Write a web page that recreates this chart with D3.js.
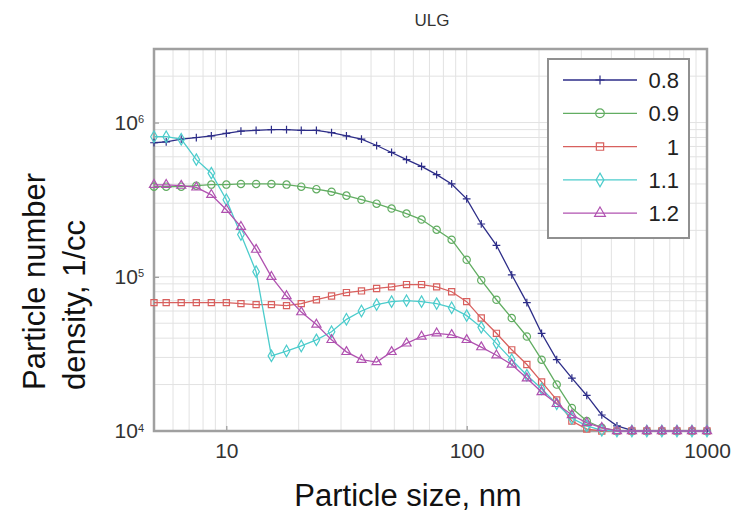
<!DOCTYPE html>
<html>
<head>
<meta charset="utf-8">
<script src="https://cdn.jsdelivr.net/npm/d3@7"></script>
<style>
  body { margin: 0; background: #fff; }
  svg { display: block; font-family: "Liberation Sans", Arial, sans-serif; }
</style>
</head>
<body>
<div id="chart"></div>
<script>
// particle sizes, nm
const sizes = [5, 5.62, 6.49, 7.5, 8.66, 10, 11.5, 13.3, 15.4, 17.8, 20.5, 23.7, 27.4, 31.6, 36.5,
  42.2, 48.7, 56.2, 64.9, 75, 86.6, 100, 115, 133, 154, 178, 205, 237, 274, 316, 365, 422, 487,
  562, 649, 750, 866, 1000];

// number density, 1/cc
const n08 = [7.4e5, 7.5e5, 7.8e5, 8.0e5, 8.2e5, 8.5e5, 8.8e5, 8.9e5, 9.0e5, 9.0e5, 8.9e5, 8.9e5,
  8.6e5, 8.2e5, 7.8e5, 7.1e5, 6.4e5, 5.75e5, 5.2e5, 4.6e5, 4.0e5, 3.2e5, 2.2e5, 1.6e5, 1.03e5,
  6.8e4, 4.3e4, 2.9e4, 2.2e4, 1.7e4, 1.27e4, 1.08e4, 1.01e4, 1e4, 1e4, 1e4, 1e4, 1e4];
const n09 = [3.84e5, 3.84e5, 3.84e5, 3.9e5, 3.96e5, 3.96e5, 4.0e5, 4.0e5, 4.0e5, 3.96e5, 3.84e5,
  3.7e5, 3.56e5, 3.36e5, 3.16e5, 2.98e5, 2.77e5, 2.57e5, 2.35e5, 2.02e5, 1.74e5, 1.29e5, 9.5e4,
  7.1e4, 5.4e4, 4.1e4, 2.9e4, 2.0e4, 1.41e4, 1.16e4, 1.05e4, 1e4, 1e4, 1e4, 1e4, 1e4, 1e4, 1e4];
const n10 = [6.8e4, 6.8e4, 6.8e4, 6.8e4, 6.8e4, 6.8e4, 6.7e4, 6.6e4, 6.6e4, 6.5e4, 6.7e4, 7.1e4,
  7.5e4, 7.9e4, 8.1e4, 8.4e4, 8.6e4, 8.9e4, 8.9e4, 8.6e4, 8.0e4, 6.9e4, 5.4e4, 4.3e4, 3.36e4,
  2.7e4, 2.08e4, 1.59e4, 1.16e4, 1.03e4, 1e4, 1e4, 1e4, 1e4, 1e4, 1e4, 1e4, 1e4];
const n11 = [8.1e5, 8.1e5, 7.8e5, 5.75e5, 4.7e5, 3.16e5, 1.88e5, 1.08e5, 3.07e4, 3.3e4, 3.56e4,
  3.9e4, 4.4e4, 5.3e4, 6.0e4, 6.6e4, 6.9e4, 7.0e4, 6.9e4, 6.7e4, 6.3e4, 5.6e4, 4.7e4, 3.7e4,
  2.9e4, 2.3e4, 1.88e4, 1.5e4, 1.21e4, 1.08e4, 1.01e4, 1e4, 1e4, 1e4, 1e4, 1e4, 1e4, 1e4];
const n12 = [3.95e5, 3.95e5, 3.9e5, 3.8e5, 3.4e5, 2.72e5, 2.11e5, 1.5e5, 1.0e5, 7.5e4, 5.9e4,
  4.9e4, 3.9e4, 3.26e4, 2.9e4, 2.8e4, 3.26e4, 3.7e4, 4.1e4, 4.3e4, 4.2e4, 3.9e4, 3.5e4, 3.1e4,
  2.7e4, 2.2e4, 1.79e4, 1.5e4, 1.27e4, 1.13e4, 1.05e4, 1e4, 1e4, 1e4, 1e4, 1e4, 1e4, 1e4];

const seriesNames = ["0.8", "0.9", "1", "1.1", "1.2"];
const xTickValues = [10, 100, 1000];
const yTickValues = [1e4, 1e5, 1e6];

const W = 736, H = 513;
const mLeft = 154, mRight = 707, mTop = 49, mBottom = 431;

// '+' drawn as a stroked symbol
const symbolPlusLine = {
  draw(ctx, size) {
    const r = Math.sqrt(size) / 2;
    ctx.moveTo(-r, 0); ctx.lineTo(r, 0);
    ctx.moveTo(0, -r); ctx.lineTo(0, r);
  }
};

const styles = [
  { color: "#2d2d88", type: symbolPlusLine, size: 60 },
  { color: "#62ad62", type: d3.symbolCircle, size: 42 },
  { color: "#d8605e", type: d3.symbolSquare, size: 38 },
  { color: "#4ccccc", type: d3.symbolDiamond, size: 38 },
  { color: "#b052b0", type: d3.symbolTriangle, size: 36 }
];

const series = [n08, n09, n10, n11, n12].map((vals, i) => ({
  name: seriesNames[i],
  style: styles[i],
  points: sizes.map((s, j) => [s, vals[j]])
}));

const x = d3.scaleLog().domain([5, 1000]).range([mLeft, mRight]);
const y = d3.scaleLog().domain([1e4, 3e6]).range([mBottom, mTop]);

const svg = d3.select("#chart").append("svg")
  .attr("width", W).attr("height", H);

// grid
const grid = svg.append("g").attr("stroke", "#e2e2e2").attr("stroke-width", 1);
grid.selectAll("line.gx")
  .data(x.ticks().filter(d => d > 5 && d < 1000))
  .join("line")
  .attr("x1", d => x(d)).attr("x2", d => x(d))
  .attr("y1", mTop).attr("y2", mBottom);
grid.selectAll("line.gy")
  .data(y.ticks().filter(d => d > 1e4 && d < 3e6))
  .join("line")
  .attr("y1", d => y(d)).attr("y2", d => y(d))
  .attr("x1", mLeft).attr("x2", mRight);

// axes
const xAxis = d3.axisBottom(x).tickValues(xTickValues).tickSizeInner(-5).tickSizeOuter(0)
  .tickPadding(12).tickFormat(d3.format("d"));
svg.append("g")
  .attr("transform", `translate(0,${mBottom})`)
  .call(xAxis)
  .call(g => g.select(".domain").remove())
  .call(g => g.selectAll(".tick line").attr("stroke", "#888"))
  .call(g => g.selectAll(".tick text").attr("font-size", 21).attr("fill", "#333")
    .attr("font-family", "'Liberation Sans', Arial, sans-serif"));

const yAxis = d3.axisLeft(y).tickValues(yTickValues).tickSizeInner(-5).tickSizeOuter(0)
  .tickPadding(10);
svg.append("g")
  .attr("transform", `translate(${mLeft},0)`)
  .call(yAxis)
  .call(g => g.select(".domain").remove())
  .call(g => g.selectAll(".tick line").attr("stroke", "#888"))
  .call(g => g.selectAll(".tick text")
    .attr("font-size", 21).attr("fill", "#333")
    .attr("font-family", "'Liberation Sans', Arial, sans-serif")
    .text("10")
    .append("tspan")
    .attr("dy", "-0.6em")
    .attr("font-size", 11)
    .text(d => Math.round(Math.log10(d))));

// frame
svg.append("rect")
  .attr("x", mLeft).attr("y", mTop)
  .attr("width", mRight - mLeft).attr("height", mBottom - mTop)
  .attr("fill", "none").attr("stroke", "#a0a0a0").attr("stroke-width", 2.5);

// series
const line = d3.line().x(d => x(d[0])).y(d => y(d[1]));
const gSeries = svg.append("g");
series.forEach(s => {
  const g = gSeries.append("g");
  g.append("path")
    .attr("d", line(s.points))
    .attr("fill", "none")
    .attr("stroke", s.style.color)
    .attr("stroke-width", 1.3);
  g.selectAll("path.mk")
    .data(s.points)
    .join("path")
    .attr("class", "mk")
    .attr("d", d3.symbol(s.style.type, s.style.size)())
    .attr("transform", d => `translate(${x(d[0])},${y(d[1])})`)
    .attr("fill", "none")
    .attr("stroke", s.style.color)
    .attr("stroke-width", 1.2);
});

// legend
const legend = svg.append("g");
legend.append("rect")
  .attr("x", 548).attr("y", 59).attr("width", 141).attr("height", 179)
  .attr("fill", "#fff").attr("stroke", "#909090").attr("stroke-width", 2);
series.forEach((s, i) => {
  const ly = 80 + i * 33.3;
  legend.append("line")
    .attr("x1", 563).attr("x2", 637).attr("y1", ly).attr("y2", ly)
    .attr("stroke", s.style.color).attr("stroke-width", 1.3);
  legend.append("path")
    .attr("d", d3.symbol(s.style.type, s.style.size * 1.4)())
    .attr("transform", `translate(600,${ly})`)
    .attr("fill", "none").attr("stroke", s.style.color).attr("stroke-width", 1.2);
  legend.append("text")
    .attr("x", 679).attr("y", ly + 8)
    .attr("text-anchor", "end")
    .attr("font-size", 22).attr("fill", "#222")
    .text(s.name);
});

// titles
svg.append("text")
  .attr("x", 432).attr("y", 26)
  .attr("text-anchor", "middle")
  .attr("font-size", 17).attr("fill", "#333")
  .text("ULG");

svg.append("text")
  .attr("x", 408).attr("y", 506)
  .attr("text-anchor", "middle")
  .attr("font-size", 31).attr("fill", "#111")
  .text("Particle size, nm");

svg.append("text")
  .attr("transform", "translate(45,390) rotate(-90)")
  .attr("font-size", 31).attr("fill", "#111")
  .text("Particle number");
svg.append("text")
  .attr("transform", "translate(85,390) rotate(-90)")
  .attr("font-size", 31).attr("fill", "#111")
  .text("density, 1/cc");
</script>
</body>
</html>
